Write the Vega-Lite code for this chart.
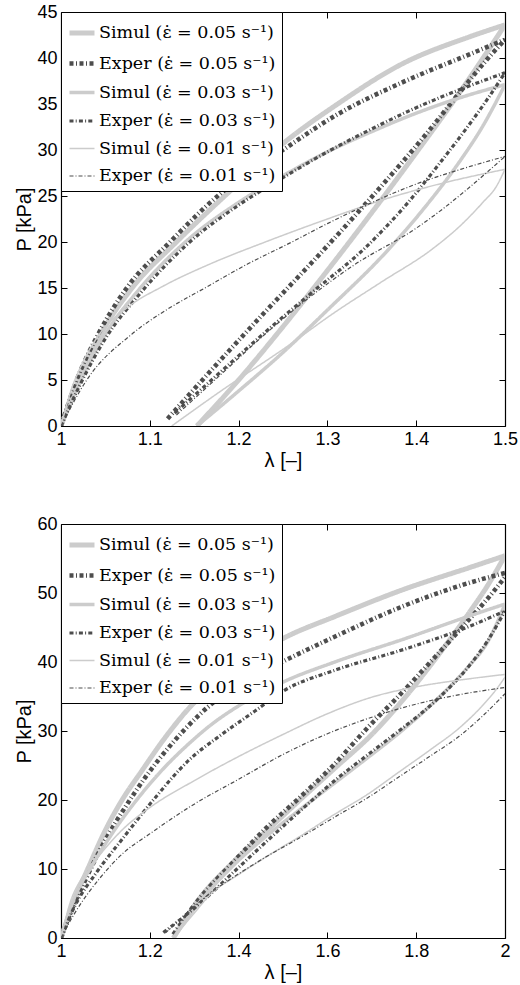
{
  "$schema": "https://vega.github.io/schema/vega-lite/v6.json",
  "background": "white",
  "padding": {"left": 14, "top": 3, "right": 5, "bottom": 5},
  "spacing": 45,
  "datasets": {
    "curves": [
      {"panel":"a","series":"Simul (ε̇ = 0.05 s⁻¹)","branch":"L","lam":1,"P":0},
      {"panel":"a","series":"Simul (ε̇ = 0.05 s⁻¹)","branch":"L","lam":1.02,"P":5},
      {"panel":"a","series":"Simul (ε̇ = 0.05 s⁻¹)","branch":"L","lam":1.045,"P":10},
      {"panel":"a","series":"Simul (ε̇ = 0.05 s⁻¹)","branch":"L","lam":1.08,"P":15},
      {"panel":"a","series":"Simul (ε̇ = 0.05 s⁻¹)","branch":"L","lam":1.13,"P":20},
      {"panel":"a","series":"Simul (ε̇ = 0.05 s⁻¹)","branch":"L","lam":1.19,"P":25.5},
      {"panel":"a","series":"Simul (ε̇ = 0.05 s⁻¹)","branch":"L","lam":1.25,"P":30.7},
      {"panel":"a","series":"Simul (ε̇ = 0.05 s⁻¹)","branch":"L","lam":1.31,"P":34.9},
      {"panel":"a","series":"Simul (ε̇ = 0.05 s⁻¹)","branch":"L","lam":1.385,"P":39.4},
      {"panel":"a","series":"Simul (ε̇ = 0.05 s⁻¹)","branch":"L","lam":1.46,"P":42.3},
      {"panel":"a","series":"Simul (ε̇ = 0.05 s⁻¹)","branch":"L","lam":1.5,"P":43.6},
      {"panel":"a","series":"Simul (ε̇ = 0.05 s⁻¹)","branch":"U","lam":1.153,"P":0},
      {"panel":"a","series":"Simul (ε̇ = 0.05 s⁻¹)","branch":"U","lam":1.2,"P":5},
      {"panel":"a","series":"Simul (ε̇ = 0.05 s⁻¹)","branch":"U","lam":1.25,"P":10.8},
      {"panel":"a","series":"Simul (ε̇ = 0.05 s⁻¹)","branch":"U","lam":1.3,"P":16.9},
      {"panel":"a","series":"Simul (ε̇ = 0.05 s⁻¹)","branch":"U","lam":1.35,"P":23.2},
      {"panel":"a","series":"Simul (ε̇ = 0.05 s⁻¹)","branch":"U","lam":1.4,"P":29.7},
      {"panel":"a","series":"Simul (ε̇ = 0.05 s⁻¹)","branch":"U","lam":1.45,"P":36.4},
      {"panel":"a","series":"Simul (ε̇ = 0.05 s⁻¹)","branch":"U","lam":1.5,"P":43.6},
      {"panel":"a","series":"Exper (ε̇ = 0.05 s⁻¹)","branch":"L","lam":1,"P":0},
      {"panel":"a","series":"Exper (ε̇ = 0.05 s⁻¹)","branch":"L","lam":1.0177,"P":5},
      {"panel":"a","series":"Exper (ε̇ = 0.05 s⁻¹)","branch":"L","lam":1.042,"P":10},
      {"panel":"a","series":"Exper (ε̇ = 0.05 s⁻¹)","branch":"L","lam":1.074,"P":15},
      {"panel":"a","series":"Exper (ε̇ = 0.05 s⁻¹)","branch":"L","lam":1.1227,"P":20},
      {"panel":"a","series":"Exper (ε̇ = 0.05 s⁻¹)","branch":"L","lam":1.18,"P":25.3},
      {"panel":"a","series":"Exper (ε̇ = 0.05 s⁻¹)","branch":"L","lam":1.25,"P":30},
      {"panel":"a","series":"Exper (ε̇ = 0.05 s⁻¹)","branch":"L","lam":1.31,"P":33.8},
      {"panel":"a","series":"Exper (ε̇ = 0.05 s⁻¹)","branch":"L","lam":1.3855,"P":37.4},
      {"panel":"a","series":"Exper (ε̇ = 0.05 s⁻¹)","branch":"L","lam":1.46,"P":40.4},
      {"panel":"a","series":"Exper (ε̇ = 0.05 s⁻¹)","branch":"L","lam":1.5,"P":42},
      {"panel":"a","series":"Exper (ε̇ = 0.05 s⁻¹)","branch":"U","lam":1.12,"P":0.8},
      {"panel":"a","series":"Exper (ε̇ = 0.05 s⁻¹)","branch":"U","lam":1.1866,"P":7.9},
      {"panel":"a","series":"Exper (ε̇ = 0.05 s⁻¹)","branch":"U","lam":1.224,"P":11.8},
      {"panel":"a","series":"Exper (ε̇ = 0.05 s⁻¹)","branch":"U","lam":1.2992,"P":19.5},
      {"panel":"a","series":"Exper (ε̇ = 0.05 s⁻¹)","branch":"U","lam":1.3555,"P":25.5},
      {"panel":"a","series":"Exper (ε̇ = 0.05 s⁻¹)","branch":"U","lam":1.4118,"P":31.8},
      {"panel":"a","series":"Exper (ε̇ = 0.05 s⁻¹)","branch":"U","lam":1.4493,"P":36.3},
      {"panel":"a","series":"Exper (ε̇ = 0.05 s⁻¹)","branch":"U","lam":1.4794,"P":39.8},
      {"panel":"a","series":"Exper (ε̇ = 0.05 s⁻¹)","branch":"U","lam":1.5,"P":42},
      {"panel":"a","series":"Simul (ε̇ = 0.03 s⁻¹)","branch":"L","lam":1,"P":0},
      {"panel":"a","series":"Simul (ε̇ = 0.03 s⁻¹)","branch":"L","lam":1.02,"P":4.5},
      {"panel":"a","series":"Simul (ε̇ = 0.03 s⁻¹)","branch":"L","lam":1.05,"P":10},
      {"panel":"a","series":"Simul (ε̇ = 0.03 s⁻¹)","branch":"L","lam":1.085,"P":14.5},
      {"panel":"a","series":"Simul (ε̇ = 0.03 s⁻¹)","branch":"L","lam":1.14,"P":20},
      {"panel":"a","series":"Simul (ε̇ = 0.03 s⁻¹)","branch":"L","lam":1.2,"P":24.3},
      {"panel":"a","series":"Simul (ε̇ = 0.03 s⁻¹)","branch":"L","lam":1.25,"P":27.2},
      {"panel":"a","series":"Simul (ε̇ = 0.03 s⁻¹)","branch":"L","lam":1.3,"P":29.8},
      {"panel":"a","series":"Simul (ε̇ = 0.03 s⁻¹)","branch":"L","lam":1.35,"P":32},
      {"panel":"a","series":"Simul (ε̇ = 0.03 s⁻¹)","branch":"L","lam":1.4,"P":34},
      {"panel":"a","series":"Simul (ε̇ = 0.03 s⁻¹)","branch":"L","lam":1.45,"P":35.7},
      {"panel":"a","series":"Simul (ε̇ = 0.03 s⁻¹)","branch":"L","lam":1.5,"P":37.1},
      {"panel":"a","series":"Simul (ε̇ = 0.03 s⁻¹)","branch":"U","lam":1.153,"P":0},
      {"panel":"a","series":"Simul (ε̇ = 0.03 s⁻¹)","branch":"U","lam":1.2,"P":3.8},
      {"panel":"a","series":"Simul (ε̇ = 0.03 s⁻¹)","branch":"U","lam":1.25,"P":8},
      {"panel":"a","series":"Simul (ε̇ = 0.03 s⁻¹)","branch":"U","lam":1.3,"P":12.6},
      {"panel":"a","series":"Simul (ε̇ = 0.03 s⁻¹)","branch":"U","lam":1.367,"P":19},
      {"panel":"a","series":"Simul (ε̇ = 0.03 s⁻¹)","branch":"U","lam":1.41,"P":23.8},
      {"panel":"a","series":"Simul (ε̇ = 0.03 s⁻¹)","branch":"U","lam":1.45,"P":28.9},
      {"panel":"a","series":"Simul (ε̇ = 0.03 s⁻¹)","branch":"U","lam":1.475,"P":32.6},
      {"panel":"a","series":"Simul (ε̇ = 0.03 s⁻¹)","branch":"U","lam":1.5,"P":37.1},
      {"panel":"a","series":"Exper (ε̇ = 0.03 s⁻¹)","branch":"L","lam":1,"P":0},
      {"panel":"a","series":"Exper (ε̇ = 0.03 s⁻¹)","branch":"L","lam":1.02,"P":4.2},
      {"panel":"a","series":"Exper (ε̇ = 0.03 s⁻¹)","branch":"L","lam":1.05,"P":9.5},
      {"panel":"a","series":"Exper (ε̇ = 0.03 s⁻¹)","branch":"L","lam":1.09,"P":14.5},
      {"panel":"a","series":"Exper (ε̇ = 0.03 s⁻¹)","branch":"L","lam":1.145,"P":20},
      {"panel":"a","series":"Exper (ε̇ = 0.03 s⁻¹)","branch":"L","lam":1.2,"P":24},
      {"panel":"a","series":"Exper (ε̇ = 0.03 s⁻¹)","branch":"L","lam":1.25,"P":27},
      {"panel":"a","series":"Exper (ε̇ = 0.03 s⁻¹)","branch":"L","lam":1.3,"P":29.8},
      {"panel":"a","series":"Exper (ε̇ = 0.03 s⁻¹)","branch":"L","lam":1.35,"P":32.3},
      {"panel":"a","series":"Exper (ε̇ = 0.03 s⁻¹)","branch":"L","lam":1.4,"P":34.6},
      {"panel":"a","series":"Exper (ε̇ = 0.03 s⁻¹)","branch":"L","lam":1.45,"P":36.6},
      {"panel":"a","series":"Exper (ε̇ = 0.03 s⁻¹)","branch":"L","lam":1.5,"P":38.4},
      {"panel":"a","series":"Exper (ε̇ = 0.03 s⁻¹)","branch":"U","lam":1.128,"P":1.4},
      {"panel":"a","series":"Exper (ε̇ = 0.03 s⁻¹)","branch":"U","lam":1.18,"P":5.9},
      {"panel":"a","series":"Exper (ε̇ = 0.03 s⁻¹)","branch":"U","lam":1.23,"P":10.2},
      {"panel":"a","series":"Exper (ε̇ = 0.03 s⁻¹)","branch":"U","lam":1.28,"P":14.3},
      {"panel":"a","series":"Exper (ε̇ = 0.03 s⁻¹)","branch":"U","lam":1.344,"P":19.5},
      {"panel":"a","series":"Exper (ε̇ = 0.03 s⁻¹)","branch":"U","lam":1.39,"P":24.2},
      {"panel":"a","series":"Exper (ε̇ = 0.03 s⁻¹)","branch":"U","lam":1.43,"P":29},
      {"panel":"a","series":"Exper (ε̇ = 0.03 s⁻¹)","branch":"U","lam":1.46,"P":32.8},
      {"panel":"a","series":"Exper (ε̇ = 0.03 s⁻¹)","branch":"U","lam":1.48,"P":35.5},
      {"panel":"a","series":"Exper (ε̇ = 0.03 s⁻¹)","branch":"U","lam":1.5,"P":38.4},
      {"panel":"a","series":"Simul (ε̇ = 0.01 s⁻¹)","branch":"L","lam":1,"P":0},
      {"panel":"a","series":"Simul (ε̇ = 0.01 s⁻¹)","branch":"L","lam":1.01,"P":3.5},
      {"panel":"a","series":"Simul (ε̇ = 0.01 s⁻¹)","branch":"L","lam":1.025,"P":7},
      {"panel":"a","series":"Simul (ε̇ = 0.01 s⁻¹)","branch":"L","lam":1.045,"P":10.2},
      {"panel":"a","series":"Simul (ε̇ = 0.01 s⁻¹)","branch":"L","lam":1.075,"P":12.9},
      {"panel":"a","series":"Simul (ε̇ = 0.01 s⁻¹)","branch":"L","lam":1.115,"P":15.2},
      {"panel":"a","series":"Simul (ε̇ = 0.01 s⁻¹)","branch":"L","lam":1.17,"P":17.7},
      {"panel":"a","series":"Simul (ε̇ = 0.01 s⁻¹)","branch":"L","lam":1.23,"P":20},
      {"panel":"a","series":"Simul (ε̇ = 0.01 s⁻¹)","branch":"L","lam":1.3,"P":22.5},
      {"panel":"a","series":"Simul (ε̇ = 0.01 s⁻¹)","branch":"L","lam":1.363,"P":24.6},
      {"panel":"a","series":"Simul (ε̇ = 0.01 s⁻¹)","branch":"L","lam":1.43,"P":26.4},
      {"panel":"a","series":"Simul (ε̇ = 0.01 s⁻¹)","branch":"L","lam":1.5,"P":27.9},
      {"panel":"a","series":"Simul (ε̇ = 0.01 s⁻¹)","branch":"U","lam":1.1247,"P":0},
      {"panel":"a","series":"Simul (ε̇ = 0.01 s⁻¹)","branch":"U","lam":1.18,"P":3.8},
      {"panel":"a","series":"Simul (ε̇ = 0.01 s⁻¹)","branch":"U","lam":1.254,"P":8.6},
      {"panel":"a","series":"Simul (ε̇ = 0.01 s⁻¹)","branch":"U","lam":1.306,"P":12.2},
      {"panel":"a","series":"Simul (ε̇ = 0.01 s⁻¹)","branch":"U","lam":1.36,"P":15.6},
      {"panel":"a","series":"Simul (ε̇ = 0.01 s⁻¹)","branch":"U","lam":1.419,"P":19.3},
      {"panel":"a","series":"Simul (ε̇ = 0.01 s⁻¹)","branch":"U","lam":1.45,"P":21.8},
      {"panel":"a","series":"Simul (ε̇ = 0.01 s⁻¹)","branch":"U","lam":1.475,"P":24.3},
      {"panel":"a","series":"Simul (ε̇ = 0.01 s⁻¹)","branch":"U","lam":1.49,"P":26},
      {"panel":"a","series":"Simul (ε̇ = 0.01 s⁻¹)","branch":"U","lam":1.5,"P":27.9},
      {"panel":"a","series":"Exper (ε̇ = 0.01 s⁻¹)","branch":"L","lam":1,"P":0},
      {"panel":"a","series":"Exper (ε̇ = 0.01 s⁻¹)","branch":"L","lam":1.029,"P":5},
      {"panel":"a","series":"Exper (ε̇ = 0.01 s⁻¹)","branch":"L","lam":1.08,"P":10},
      {"panel":"a","series":"Exper (ε̇ = 0.01 s⁻¹)","branch":"L","lam":1.12,"P":12.7},
      {"panel":"a","series":"Exper (ε̇ = 0.01 s⁻¹)","branch":"L","lam":1.162,"P":15},
      {"panel":"a","series":"Exper (ε̇ = 0.01 s⁻¹)","branch":"L","lam":1.21,"P":17.6},
      {"panel":"a","series":"Exper (ε̇ = 0.01 s⁻¹)","branch":"L","lam":1.26,"P":20},
      {"panel":"a","series":"Exper (ε̇ = 0.01 s⁻¹)","branch":"L","lam":1.3,"P":22},
      {"panel":"a","series":"Exper (ε̇ = 0.01 s⁻¹)","branch":"L","lam":1.348,"P":24.2},
      {"panel":"a","series":"Exper (ε̇ = 0.01 s⁻¹)","branch":"L","lam":1.4,"P":26.3},
      {"panel":"a","series":"Exper (ε̇ = 0.01 s⁻¹)","branch":"L","lam":1.45,"P":27.9},
      {"panel":"a","series":"Exper (ε̇ = 0.01 s⁻¹)","branch":"L","lam":1.5,"P":29.3},
      {"panel":"a","series":"Exper (ε̇ = 0.01 s⁻¹)","branch":"U","lam":1.13,"P":1.2},
      {"panel":"a","series":"Exper (ε̇ = 0.01 s⁻¹)","branch":"U","lam":1.18,"P":5.6},
      {"panel":"a","series":"Exper (ε̇ = 0.01 s⁻¹)","branch":"U","lam":1.23,"P":10},
      {"panel":"a","series":"Exper (ε̇ = 0.01 s⁻¹)","branch":"U","lam":1.28,"P":14},
      {"panel":"a","series":"Exper (ε̇ = 0.01 s⁻¹)","branch":"U","lam":1.33,"P":17.5},
      {"panel":"a","series":"Exper (ε̇ = 0.01 s⁻¹)","branch":"U","lam":1.4,"P":21.5},
      {"panel":"a","series":"Exper (ε̇ = 0.01 s⁻¹)","branch":"U","lam":1.43,"P":23.6},
      {"panel":"a","series":"Exper (ε̇ = 0.01 s⁻¹)","branch":"U","lam":1.457,"P":25.7},
      {"panel":"a","series":"Exper (ε̇ = 0.01 s⁻¹)","branch":"U","lam":1.48,"P":27.6},
      {"panel":"a","series":"Exper (ε̇ = 0.01 s⁻¹)","branch":"U","lam":1.5,"P":29.3},

      {"panel":"b","series":"Simul (ε̇ = 0.05 s⁻¹)","branch":"L","lam":1,"P":0},
      {"panel":"b","series":"Simul (ε̇ = 0.05 s⁻¹)","branch":"L","lam":1.03,"P":5.5},
      {"panel":"b","series":"Simul (ε̇ = 0.05 s⁻¹)","branch":"L","lam":1.0616,"P":10.2},
      {"panel":"b","series":"Simul (ε̇ = 0.05 s⁻¹)","branch":"L","lam":1.099,"P":15.5},
      {"panel":"b","series":"Simul (ε̇ = 0.05 s⁻¹)","branch":"L","lam":1.1366,"P":19.9},
      {"panel":"b","series":"Simul (ε̇ = 0.05 s⁻¹)","branch":"L","lam":1.1817,"P":24.2},
      {"panel":"b","series":"Simul (ε̇ = 0.05 s⁻¹)","branch":"L","lam":1.234,"P":29},
      {"panel":"b","series":"Simul (ε̇ = 0.05 s⁻¹)","branch":"L","lam":1.2868,"P":33.2},
      {"panel":"b","series":"Simul (ε̇ = 0.05 s⁻¹)","branch":"L","lam":1.35,"P":37},
      {"panel":"b","series":"Simul (ε̇ = 0.05 s⁻¹)","branch":"L","lam":1.42,"P":40.3},
      {"panel":"b","series":"Simul (ε̇ = 0.05 s⁻¹)","branch":"L","lam":1.497,"P":43.3},
      {"panel":"b","series":"Simul (ε̇ = 0.05 s⁻¹)","branch":"L","lam":1.621,"P":46.7},
      {"panel":"b","series":"Simul (ε̇ = 0.05 s⁻¹)","branch":"L","lam":1.771,"P":50.5},
      {"panel":"b","series":"Simul (ε̇ = 0.05 s⁻¹)","branch":"L","lam":1.921,"P":53.7},
      {"panel":"b","series":"Simul (ε̇ = 0.05 s⁻¹)","branch":"L","lam":2,"P":55.4},
      {"panel":"b","series":"Simul (ε̇ = 0.05 s⁻¹)","branch":"U","lam":1.253,"P":0},
      {"panel":"b","series":"Simul (ε̇ = 0.05 s⁻¹)","branch":"U","lam":1.313,"P":5.8},
      {"panel":"b","series":"Simul (ε̇ = 0.05 s⁻¹)","branch":"U","lam":1.388,"P":11},
      {"panel":"b","series":"Simul (ε̇ = 0.05 s⁻¹)","branch":"U","lam":1.463,"P":15.5},
      {"panel":"b","series":"Simul (ε̇ = 0.05 s⁻¹)","branch":"U","lam":1.538,"P":20},
      {"panel":"b","series":"Simul (ε̇ = 0.05 s⁻¹)","branch":"U","lam":1.62,"P":24.8},
      {"panel":"b","series":"Simul (ε̇ = 0.05 s⁻¹)","branch":"U","lam":1.7,"P":29.5},
      {"panel":"b","series":"Simul (ε̇ = 0.05 s⁻¹)","branch":"U","lam":1.77,"P":34.5},
      {"panel":"b","series":"Simul (ε̇ = 0.05 s⁻¹)","branch":"U","lam":1.845,"P":40.6},
      {"panel":"b","series":"Simul (ε̇ = 0.05 s⁻¹)","branch":"U","lam":1.92,"P":47.2},
      {"panel":"b","series":"Simul (ε̇ = 0.05 s⁻¹)","branch":"U","lam":1.96,"P":51},
      {"panel":"b","series":"Simul (ε̇ = 0.05 s⁻¹)","branch":"U","lam":2,"P":55.4},
      {"panel":"b","series":"Exper (ε̇ = 0.05 s⁻¹)","branch":"L","lam":1,"P":0},
      {"panel":"b","series":"Exper (ε̇ = 0.05 s⁻¹)","branch":"L","lam":1.025,"P":4.2},
      {"panel":"b","series":"Exper (ε̇ = 0.05 s⁻¹)","branch":"L","lam":1.054,"P":8.3},
      {"panel":"b","series":"Exper (ε̇ = 0.05 s⁻¹)","branch":"L","lam":1.099,"P":14.1},
      {"panel":"b","series":"Exper (ε̇ = 0.05 s⁻¹)","branch":"L","lam":1.144,"P":18.9},
      {"panel":"b","series":"Exper (ε̇ = 0.05 s⁻¹)","branch":"L","lam":1.189,"P":23.2},
      {"panel":"b","series":"Exper (ε̇ = 0.05 s⁻¹)","branch":"L","lam":1.249,"P":28.1},
      {"panel":"b","series":"Exper (ε̇ = 0.05 s⁻¹)","branch":"L","lam":1.309,"P":32.2},
      {"panel":"b","series":"Exper (ε̇ = 0.05 s⁻¹)","branch":"L","lam":1.4,"P":36.8},
      {"panel":"b","series":"Exper (ε̇ = 0.05 s⁻¹)","branch":"L","lam":1.5007,"P":40.1},
      {"panel":"b","series":"Exper (ε̇ = 0.05 s⁻¹)","branch":"L","lam":1.621,"P":43.8},
      {"panel":"b","series":"Exper (ε̇ = 0.05 s⁻¹)","branch":"L","lam":1.771,"P":48.1},
      {"panel":"b","series":"Exper (ε̇ = 0.05 s⁻¹)","branch":"L","lam":1.921,"P":51.5},
      {"panel":"b","series":"Exper (ε̇ = 0.05 s⁻¹)","branch":"L","lam":2,"P":52.9},
      {"panel":"b","series":"Exper (ε̇ = 0.05 s⁻¹)","branch":"U","lam":1.253,"P":0.5},
      {"panel":"b","series":"Exper (ε̇ = 0.05 s⁻¹)","branch":"U","lam":1.313,"P":5.8},
      {"panel":"b","series":"Exper (ε̇ = 0.05 s⁻¹)","branch":"U","lam":1.388,"P":11},
      {"panel":"b","series":"Exper (ε̇ = 0.05 s⁻¹)","branch":"U","lam":1.463,"P":16},
      {"panel":"b","series":"Exper (ε̇ = 0.05 s⁻¹)","branch":"U","lam":1.54,"P":20.5},
      {"panel":"b","series":"Exper (ε̇ = 0.05 s⁻¹)","branch":"U","lam":1.613,"P":25},
      {"panel":"b","series":"Exper (ε̇ = 0.05 s⁻¹)","branch":"U","lam":1.688,"P":30.3},
      {"panel":"b","series":"Exper (ε̇ = 0.05 s⁻¹)","branch":"U","lam":1.767,"P":35.5},
      {"panel":"b","series":"Exper (ε̇ = 0.05 s⁻¹)","branch":"U","lam":1.842,"P":40.7},
      {"panel":"b","series":"Exper (ε̇ = 0.05 s⁻¹)","branch":"U","lam":1.917,"P":46},
      {"panel":"b","series":"Exper (ε̇ = 0.05 s⁻¹)","branch":"U","lam":1.974,"P":50.2},
      {"panel":"b","series":"Exper (ε̇ = 0.05 s⁻¹)","branch":"U","lam":2,"P":52.3},
      {"panel":"b","series":"Simul (ε̇ = 0.03 s⁻¹)","branch":"L","lam":1,"P":0},
      {"panel":"b","series":"Simul (ε̇ = 0.03 s⁻¹)","branch":"L","lam":1.03,"P":5.8},
      {"panel":"b","series":"Simul (ε̇ = 0.03 s⁻¹)","branch":"L","lam":1.07,"P":10.5},
      {"panel":"b","series":"Simul (ε̇ = 0.03 s⁻¹)","branch":"L","lam":1.12,"P":15.6},
      {"panel":"b","series":"Simul (ε̇ = 0.03 s⁻¹)","branch":"L","lam":1.174,"P":20.3},
      {"panel":"b","series":"Simul (ε̇ = 0.03 s⁻¹)","branch":"L","lam":1.23,"P":24.5},
      {"panel":"b","series":"Simul (ε̇ = 0.03 s⁻¹)","branch":"L","lam":1.287,"P":28.1},
      {"panel":"b","series":"Simul (ε̇ = 0.03 s⁻¹)","branch":"L","lam":1.34,"P":31},
      {"panel":"b","series":"Simul (ε̇ = 0.03 s⁻¹)","branch":"L","lam":1.399,"P":33.6},
      {"panel":"b","series":"Simul (ε̇ = 0.03 s⁻¹)","branch":"L","lam":1.497,"P":37},
      {"panel":"b","series":"Simul (ε̇ = 0.03 s⁻¹)","branch":"L","lam":1.621,"P":40.1},
      {"panel":"b","series":"Simul (ε̇ = 0.03 s⁻¹)","branch":"L","lam":1.771,"P":43.3},
      {"panel":"b","series":"Simul (ε̇ = 0.03 s⁻¹)","branch":"L","lam":1.921,"P":46.7},
      {"panel":"b","series":"Simul (ε̇ = 0.03 s⁻¹)","branch":"L","lam":2,"P":48.4},
      {"panel":"b","series":"Simul (ε̇ = 0.03 s⁻¹)","branch":"U","lam":1.253,"P":0},
      {"panel":"b","series":"Simul (ε̇ = 0.03 s⁻¹)","branch":"U","lam":1.31,"P":5},
      {"panel":"b","series":"Simul (ε̇ = 0.03 s⁻¹)","branch":"U","lam":1.388,"P":10.5},
      {"panel":"b","series":"Simul (ε̇ = 0.03 s⁻¹)","branch":"U","lam":1.463,"P":14.8},
      {"panel":"b","series":"Simul (ε̇ = 0.03 s⁻¹)","branch":"U","lam":1.538,"P":18.6},
      {"panel":"b","series":"Simul (ε̇ = 0.03 s⁻¹)","branch":"U","lam":1.613,"P":22.3},
      {"panel":"b","series":"Simul (ε̇ = 0.03 s⁻¹)","branch":"U","lam":1.688,"P":26},
      {"panel":"b","series":"Simul (ε̇ = 0.03 s⁻¹)","branch":"U","lam":1.767,"P":30},
      {"panel":"b","series":"Simul (ε̇ = 0.03 s⁻¹)","branch":"U","lam":1.842,"P":34.3},
      {"panel":"b","series":"Simul (ε̇ = 0.03 s⁻¹)","branch":"U","lam":1.917,"P":39.3},
      {"panel":"b","series":"Simul (ε̇ = 0.03 s⁻¹)","branch":"U","lam":1.96,"P":42.8},
      {"panel":"b","series":"Simul (ε̇ = 0.03 s⁻¹)","branch":"U","lam":2,"P":48.4},
      {"panel":"b","series":"Exper (ε̇ = 0.03 s⁻¹)","branch":"L","lam":1,"P":0},
      {"panel":"b","series":"Exper (ε̇ = 0.03 s⁻¹)","branch":"L","lam":1.03,"P":4.5},
      {"panel":"b","series":"Exper (ε̇ = 0.03 s⁻¹)","branch":"L","lam":1.08,"P":9.5},
      {"panel":"b","series":"Exper (ε̇ = 0.03 s⁻¹)","branch":"L","lam":1.14,"P":14.5},
      {"panel":"b","series":"Exper (ε̇ = 0.03 s⁻¹)","branch":"L","lam":1.2117,"P":20.3},
      {"panel":"b","series":"Exper (ε̇ = 0.03 s⁻¹)","branch":"L","lam":1.2868,"P":25.7},
      {"panel":"b","series":"Exper (ε̇ = 0.03 s⁻¹)","branch":"L","lam":1.362,"P":29.5},
      {"panel":"b","series":"Exper (ε̇ = 0.03 s⁻¹)","branch":"L","lam":1.437,"P":32.9},
      {"panel":"b","series":"Exper (ε̇ = 0.03 s⁻¹)","branch":"L","lam":1.5007,"P":35.8},
      {"panel":"b","series":"Exper (ε̇ = 0.03 s⁻¹)","branch":"L","lam":1.621,"P":38.9},
      {"panel":"b","series":"Exper (ε̇ = 0.03 s⁻¹)","branch":"L","lam":1.771,"P":41.8},
      {"panel":"b","series":"Exper (ε̇ = 0.03 s⁻¹)","branch":"L","lam":1.921,"P":45.2},
      {"panel":"b","series":"Exper (ε̇ = 0.03 s⁻¹)","branch":"L","lam":2,"P":47.4},
      {"panel":"b","series":"Exper (ε̇ = 0.03 s⁻¹)","branch":"U","lam":1.2305,"P":0.8},
      {"panel":"b","series":"Exper (ε̇ = 0.03 s⁻¹)","branch":"U","lam":1.313,"P":5},
      {"panel":"b","series":"Exper (ε̇ = 0.03 s⁻¹)","branch":"U","lam":1.388,"P":9.5},
      {"panel":"b","series":"Exper (ε̇ = 0.03 s⁻¹)","branch":"U","lam":1.463,"P":14},
      {"panel":"b","series":"Exper (ε̇ = 0.03 s⁻¹)","branch":"U","lam":1.54,"P":18.5},
      {"panel":"b","series":"Exper (ε̇ = 0.03 s⁻¹)","branch":"U","lam":1.62,"P":23},
      {"panel":"b","series":"Exper (ε̇ = 0.03 s⁻¹)","branch":"U","lam":1.7,"P":27},
      {"panel":"b","series":"Exper (ε̇ = 0.03 s⁻¹)","branch":"U","lam":1.771,"P":30.5},
      {"panel":"b","series":"Exper (ε̇ = 0.03 s⁻¹)","branch":"U","lam":1.846,"P":34.5},
      {"panel":"b","series":"Exper (ε̇ = 0.03 s⁻¹)","branch":"U","lam":1.92,"P":39.5},
      {"panel":"b","series":"Exper (ε̇ = 0.03 s⁻¹)","branch":"U","lam":1.96,"P":43},
      {"panel":"b","series":"Exper (ε̇ = 0.03 s⁻¹)","branch":"U","lam":2,"P":47.4},
      {"panel":"b","series":"Simul (ε̇ = 0.01 s⁻¹)","branch":"L","lam":1,"P":0},
      {"panel":"b","series":"Simul (ε̇ = 0.01 s⁻¹)","branch":"L","lam":1.02,"P":5},
      {"panel":"b","series":"Simul (ε̇ = 0.01 s⁻¹)","branch":"L","lam":1.05,"P":9},
      {"panel":"b","series":"Simul (ε̇ = 0.01 s⁻¹)","branch":"L","lam":1.088,"P":12.1},
      {"panel":"b","series":"Simul (ε̇ = 0.01 s⁻¹)","branch":"L","lam":1.14,"P":15.8},
      {"panel":"b","series":"Simul (ε̇ = 0.01 s⁻¹)","branch":"L","lam":1.2,"P":18.9},
      {"panel":"b","series":"Simul (ε̇ = 0.01 s⁻¹)","branch":"L","lam":1.3,"P":22.8},
      {"panel":"b","series":"Simul (ε̇ = 0.01 s⁻¹)","branch":"L","lam":1.4,"P":26.3},
      {"panel":"b","series":"Simul (ε̇ = 0.01 s⁻¹)","branch":"L","lam":1.5,"P":29.5},
      {"panel":"b","series":"Simul (ε̇ = 0.01 s⁻¹)","branch":"L","lam":1.6,"P":32.5},
      {"panel":"b","series":"Simul (ε̇ = 0.01 s⁻¹)","branch":"L","lam":1.7,"P":34.9},
      {"panel":"b","series":"Simul (ε̇ = 0.01 s⁻¹)","branch":"L","lam":1.8,"P":36.4},
      {"panel":"b","series":"Simul (ε̇ = 0.01 s⁻¹)","branch":"L","lam":1.9,"P":37.4},
      {"panel":"b","series":"Simul (ε̇ = 0.01 s⁻¹)","branch":"L","lam":2,"P":38.2},
      {"panel":"b","series":"Simul (ε̇ = 0.01 s⁻¹)","branch":"U","lam":1.253,"P":0},
      {"panel":"b","series":"Simul (ε̇ = 0.01 s⁻¹)","branch":"U","lam":1.3,"P":3.6},
      {"panel":"b","series":"Simul (ε̇ = 0.01 s⁻¹)","branch":"U","lam":1.336,"P":6.3},
      {"panel":"b","series":"Simul (ε̇ = 0.01 s⁻¹)","branch":"U","lam":1.4,"P":9.2},
      {"panel":"b","series":"Simul (ε̇ = 0.01 s⁻¹)","branch":"U","lam":1.463,"P":11.8},
      {"panel":"b","series":"Simul (ε̇ = 0.01 s⁻¹)","branch":"U","lam":1.54,"P":14.8},
      {"panel":"b","series":"Simul (ε̇ = 0.01 s⁻¹)","branch":"U","lam":1.613,"P":17.8},
      {"panel":"b","series":"Simul (ε̇ = 0.01 s⁻¹)","branch":"U","lam":1.69,"P":20.8},
      {"panel":"b","series":"Simul (ε̇ = 0.01 s⁻¹)","branch":"U","lam":1.76,"P":24},
      {"panel":"b","series":"Simul (ε̇ = 0.01 s⁻¹)","branch":"U","lam":1.83,"P":27.2},
      {"panel":"b","series":"Simul (ε̇ = 0.01 s⁻¹)","branch":"U","lam":1.9,"P":30.6},
      {"panel":"b","series":"Simul (ε̇ = 0.01 s⁻¹)","branch":"U","lam":1.951,"P":33.8},
      {"panel":"b","series":"Simul (ε̇ = 0.01 s⁻¹)","branch":"U","lam":1.98,"P":36},
      {"panel":"b","series":"Simul (ε̇ = 0.01 s⁻¹)","branch":"U","lam":2,"P":37.8},
      {"panel":"b","series":"Exper (ε̇ = 0.01 s⁻¹)","branch":"L","lam":1,"P":0},
      {"panel":"b","series":"Exper (ε̇ = 0.01 s⁻¹)","branch":"L","lam":1.03,"P":3.5},
      {"panel":"b","series":"Exper (ε̇ = 0.01 s⁻¹)","branch":"L","lam":1.0878,"P":8.7},
      {"panel":"b","series":"Exper (ε̇ = 0.01 s⁻¹)","branch":"L","lam":1.14,"P":12.3},
      {"panel":"b","series":"Exper (ε̇ = 0.01 s⁻¹)","branch":"L","lam":1.2,"P":15.1},
      {"panel":"b","series":"Exper (ε̇ = 0.01 s⁻¹)","branch":"L","lam":1.3,"P":19.4},
      {"panel":"b","series":"Exper (ε̇ = 0.01 s⁻¹)","branch":"L","lam":1.4,"P":23},
      {"panel":"b","series":"Exper (ε̇ = 0.01 s⁻¹)","branch":"L","lam":1.5,"P":26.6},
      {"panel":"b","series":"Exper (ε̇ = 0.01 s⁻¹)","branch":"L","lam":1.6,"P":29.6},
      {"panel":"b","series":"Exper (ε̇ = 0.01 s⁻¹)","branch":"L","lam":1.7,"P":32},
      {"panel":"b","series":"Exper (ε̇ = 0.01 s⁻¹)","branch":"L","lam":1.8,"P":33.9},
      {"panel":"b","series":"Exper (ε̇ = 0.01 s⁻¹)","branch":"L","lam":1.9,"P":35.3},
      {"panel":"b","series":"Exper (ε̇ = 0.01 s⁻¹)","branch":"L","lam":2,"P":36.3},
      {"panel":"b","series":"Exper (ε̇ = 0.01 s⁻¹)","branch":"U","lam":1.235,"P":0.7},
      {"panel":"b","series":"Exper (ε̇ = 0.01 s⁻¹)","branch":"U","lam":1.3,"P":4.6},
      {"panel":"b","series":"Exper (ε̇ = 0.01 s⁻¹)","branch":"U","lam":1.336,"P":6.5},
      {"panel":"b","series":"Exper (ε̇ = 0.01 s⁻¹)","branch":"U","lam":1.4,"P":9.3},
      {"panel":"b","series":"Exper (ε̇ = 0.01 s⁻¹)","branch":"U","lam":1.463,"P":11.8},
      {"panel":"b","series":"Exper (ε̇ = 0.01 s⁻¹)","branch":"U","lam":1.54,"P":14.6},
      {"panel":"b","series":"Exper (ε̇ = 0.01 s⁻¹)","branch":"U","lam":1.613,"P":17.4},
      {"panel":"b","series":"Exper (ε̇ = 0.01 s⁻¹)","branch":"U","lam":1.69,"P":20.3},
      {"panel":"b","series":"Exper (ε̇ = 0.01 s⁻¹)","branch":"U","lam":1.76,"P":23.3},
      {"panel":"b","series":"Exper (ε̇ = 0.01 s⁻¹)","branch":"U","lam":1.83,"P":26.3},
      {"panel":"b","series":"Exper (ε̇ = 0.01 s⁻¹)","branch":"U","lam":1.9,"P":29.4},
      {"panel":"b","series":"Exper (ε̇ = 0.01 s⁻¹)","branch":"U","lam":1.95,"P":32.2},
      {"panel":"b","series":"Exper (ε̇ = 0.01 s⁻¹)","branch":"U","lam":2,"P":35.4}
    ]
  },
  "data": {"name": "curves"},
  "config": {
    "view": {"stroke": null},
    "axis": {
      "labelFont": "Liberation Sans", "labelFontSize": 18, "labelColor": "black",
      "titleFont": "Liberation Sans", "titleFontSize": 20, "titleFontWeight": "normal", "titleColor": "black",
      "domainColor": "black", "domainWidth": 1.2, "tickColor": "black", "tickWidth": 1, "tickSize": -6,
      "labelPadding": 10, "labelFlush": false, "labelOverlap": false, "grid": false
    },
    "legend": {
      "orient": "top-left", "offset": 0, "title": null,
      "strokeColor": "black", "fillColor": "white", "padding": 6, "cornerRadius": 0,
      "symbolType": "stroke", "symbolSize": 625, "labelFont": "DejaVu Serif", "labelFontSize": 17.5,
      "labelColor": "black", "labelOffset": 2, "rowPadding": 5.5, "labelLimit": 400
    }
  },
  "vconcat": [
    {
      "width": 444, "height": 414,
      "transform": [{"filter": "datum.panel == 'a'"}],
      "layer": [
        {
          "mark": {"type": "line", "interpolate": "monotone", "clip": true},
          "encoding": {
            "x": {"field": "lam", "type": "quantitative", "scale": {"domain": [1, 1.5], "nice": false, "zero": false},
                  "axis": {"values": [1, 1.1, 1.2, 1.3, 1.4, 1.5], "format": "~g", "title": "λ [–]", "titlePadding": 2}},
            "y": {"field": "P", "type": "quantitative", "scale": {"domain": [0, 45], "nice": false},
                  "axis": {"values": [0, 5, 10, 15, 20, 25, 30, 35, 40, 45], "title": "P [kPa]", "titlePadding": 2}},
            "detail": {"field": "branch"},
            "color": {"field": "series", "type": "nominal",
              "scale": {"domain": ["Simul (ε̇ = 0.05 s⁻¹)", "Exper (ε̇ = 0.05 s⁻¹)", "Simul (ε̇ = 0.03 s⁻¹)", "Exper (ε̇ = 0.03 s⁻¹)", "Simul (ε̇ = 0.01 s⁻¹)", "Exper (ε̇ = 0.01 s⁻¹)"],
                        "range": ["#cccccc", "#4d4d4d", "#cccccc", "#4d4d4d", "#cccccc", "#4d4d4d"]}},
            "strokeDash": {"field": "series", "type": "nominal",
              "scale": {"domain": ["Simul (ε̇ = 0.05 s⁻¹)", "Exper (ε̇ = 0.05 s⁻¹)", "Simul (ε̇ = 0.03 s⁻¹)", "Exper (ε̇ = 0.03 s⁻¹)", "Simul (ε̇ = 0.01 s⁻¹)", "Exper (ε̇ = 0.01 s⁻¹)"],
                        "range": [[1, 0], [4, 2.5, 1, 2.5], [1, 0], [4, 2.2, 1, 2.2], [1, 0], [4, 2, 1, 2]]}},
            "strokeWidth": {"field": "series", "type": "nominal",
              "scale": {"type": "ordinal", "domain": ["Simul (ε̇ = 0.05 s⁻¹)", "Exper (ε̇ = 0.05 s⁻¹)", "Simul (ε̇ = 0.03 s⁻¹)", "Exper (ε̇ = 0.03 s⁻¹)", "Simul (ε̇ = 0.01 s⁻¹)", "Exper (ε̇ = 0.01 s⁻¹)"],
                        "range": [5, 4.5, 3.5, 3.2, 1.5, 1.2]}}
          }
        },
        {
          "mark": {"type": "point", "opacity": 0},
          "encoding": {
            "x": {"field": "lam", "type": "quantitative", "axis": {"orient": "top", "values": [1, 1.1, 1.2, 1.3, 1.4, 1.5], "labels": false, "title": null}},
            "y": {"field": "P", "type": "quantitative", "axis": {"orient": "right", "values": [0, 5, 10, 15, 20, 25, 30, 35, 40, 45], "labels": false, "title": null}}
          }
        }
      ],
      "resolve": {"axis": {"x": "independent", "y": "independent"}}
    },
    {
      "width": 444, "height": 414,
      "transform": [{"filter": "datum.panel == 'b'"}],
      "layer": [
        {
          "mark": {"type": "line", "interpolate": "monotone", "clip": true},
          "encoding": {
            "x": {"field": "lam", "type": "quantitative", "scale": {"domain": [1, 2], "nice": false, "zero": false},
                  "axis": {"values": [1, 1.2, 1.4, 1.6, 1.8, 2], "format": "~g", "title": "λ [–]", "titlePadding": 2}},
            "y": {"field": "P", "type": "quantitative", "scale": {"domain": [0, 60], "nice": false},
                  "axis": {"values": [0, 10, 20, 30, 40, 50, 60], "title": "P [kPa]", "titlePadding": 2}},
            "detail": {"field": "branch"},
            "color": {"field": "series", "type": "nominal",
              "scale": {"domain": ["Simul (ε̇ = 0.05 s⁻¹)", "Exper (ε̇ = 0.05 s⁻¹)", "Simul (ε̇ = 0.03 s⁻¹)", "Exper (ε̇ = 0.03 s⁻¹)", "Simul (ε̇ = 0.01 s⁻¹)", "Exper (ε̇ = 0.01 s⁻¹)"],
                        "range": ["#cccccc", "#4d4d4d", "#cccccc", "#4d4d4d", "#cccccc", "#4d4d4d"]}},
            "strokeDash": {"field": "series", "type": "nominal",
              "scale": {"domain": ["Simul (ε̇ = 0.05 s⁻¹)", "Exper (ε̇ = 0.05 s⁻¹)", "Simul (ε̇ = 0.03 s⁻¹)", "Exper (ε̇ = 0.03 s⁻¹)", "Simul (ε̇ = 0.01 s⁻¹)", "Exper (ε̇ = 0.01 s⁻¹)"],
                        "range": [[1, 0], [4, 2.5, 1, 2.5], [1, 0], [4, 2.2, 1, 2.2], [1, 0], [4, 2, 1, 2]]}},
            "strokeWidth": {"field": "series", "type": "nominal",
              "scale": {"type": "ordinal", "domain": ["Simul (ε̇ = 0.05 s⁻¹)", "Exper (ε̇ = 0.05 s⁻¹)", "Simul (ε̇ = 0.03 s⁻¹)", "Exper (ε̇ = 0.03 s⁻¹)", "Simul (ε̇ = 0.01 s⁻¹)", "Exper (ε̇ = 0.01 s⁻¹)"],
                        "range": [5, 4.5, 3.5, 3.2, 1.5, 1.2]}}
          }
        },
        {
          "mark": {"type": "point", "opacity": 0},
          "encoding": {
            "x": {"field": "lam", "type": "quantitative", "axis": {"orient": "top", "values": [1, 1.2, 1.4, 1.6, 1.8, 2], "labels": false, "title": null}},
            "y": {"field": "P", "type": "quantitative", "axis": {"orient": "right", "values": [0, 10, 20, 30, 40, 50, 60], "labels": false, "title": null}}
          }
        }
      ],
      "resolve": {"axis": {"x": "independent", "y": "independent"}}
    }
  ],
  "resolve": {"scale": {"color": "independent", "strokeDash": "independent", "strokeWidth": "independent"}}
}
